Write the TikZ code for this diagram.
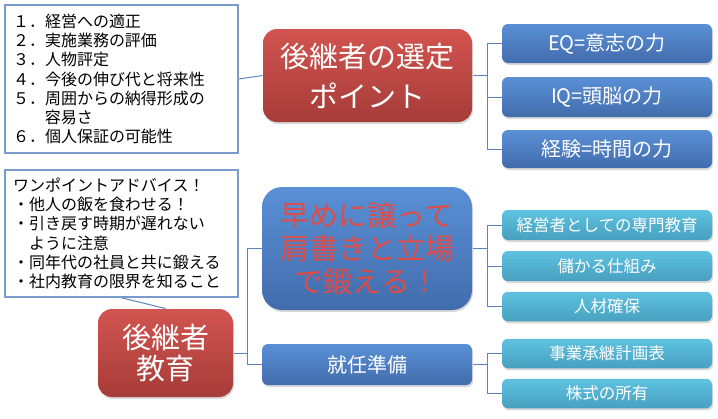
\documentclass[tikz,border=0pt]{standalone}
\usepackage{fontspec}
\setmainfont{Noto Sans CJK JP}
\usetikzlibrary{shadows}
\definecolor{redtop}{RGB}{210,84,80}
\definecolor{redbot}{RGB}{166,60,56}
\definecolor{bluetop}{RGB}{90,144,214}
\definecolor{bluebot}{RGB}{66,108,172}
\definecolor{cyantop}{RGB}{94,194,224}
\definecolor{cyanbot}{RGB}{72,160,192}
\definecolor{frame}{RGB}{122,156,204}
\definecolor{wire}{RGB}{92,132,192}
\definecolor{slogan}{RGB}{222,76,72}
\begin{document}
\begin{tikzpicture}[x=1pt, y=-1pt, line width=1pt,
  note/.style={draw=frame, line width=1.6pt, fill=white, inner xsep=8pt,
    text width=217pt, align=left, font={\fontsize{16}{19.3}\selectfont}},
  lift/.style={drop shadow={opacity=0.3, shadow xshift=1pt, shadow yshift=-2pt}},
  redbox/.style={lift, rounded corners=14pt, top color=redtop, bottom color=redbot,
    text=white, align=center},
  bluebox/.style={lift, rounded corners=6pt, top color=bluetop, bottom color=bluebot,
    text=white, align=center, minimum width=210pt},
  cyanbox/.style={lift, rounded corners=6pt, top color=cyantop, bottom color=cyanbot,
    text=white, align=center, minimum width=210pt, minimum height=29.5pt,
    font={\fontsize{16.5}{20}\selectfont}},
  wire/.style={draw=wire, line width=1pt}]
\useasboundingbox (0,0) rectangle (718,418);

% selection points
\node[note, minimum height=148pt] (list) at (121.5,79)
  {１．経営への適正\\２．実施業務の評価\\３．人物評定\\４．今後の伸び代と将来性\\
   ５．周囲からの納得形成の\\\phantom{５．}容易さ\\６．個人保証の可能性};
\node[redbox, minimum width=209pt, minimum height=93pt,
  font={\fontsize{29}{40}\selectfont}] (sel) at (367.5,75.5) {後継者の選定\\ポイント};
\node[bluebox, minimum height=39pt, font={\fontsize{20}{24}\selectfont}] (eq) at (607,43.5) {EQ=意志の力};
\node[bluebox, minimum height=40pt, font={\fontsize{20}{24}\selectfont}] (iq) at (607,97) {IQ=頭脳の力};
\node[bluebox, minimum height=38pt, font={\fontsize{20}{24}\selectfont}] (exp) at (607,149) {経験=時間の力};

% education
\node[note, minimum height=127pt] (advice) at (121.5,233.5)
  {ワンポイントアドバイス！\\・他人の飯を食わせる！\\・引き戻す時期が遅れない\\
   \phantom{・}ように注意\\・同年代の社員と共に鍛える\\・社内教育の限界を知ること};
\node[redbox, minimum width=135pt, minimum height=88pt,
  font={\fontsize{29}{31}\selectfont}] (edu) at (165.5,353) {後継者\\教育};
\node[bluebox, rounded corners=20pt, minimum height=123pt, text=slogan,
  font={\fontsize{29}{33}\selectfont}] (early) at (367,248.5) {早めに譲って\\肩書きと立場\\で鍛える！};
\node[bluebox, minimum height=41pt, font={\fontsize{20}{24}\selectfont}] (prep) at (367,364.5) {就任準備};
\node[cyanbox, minimum height=30pt] (pro) at (607,225) {経営者としての専門教育};
\node[cyanbox, minimum height=30pt] (earn) at (607,266) {儲かる仕組み};
\node[cyanbox] (staff) at (607,306.5) {人材確保};
\node[cyanbox] (plan) at (607,353.5) {事業承継計画表};
\node[cyanbox] (stock) at (607,393.5) {株式の所有};

% connectors
\draw[wire] (list.east) -- (sel.west);
\draw[wire] (advice.south) -- (edu.north);
\draw[wire] (sel.east) -- ++(15,0) |- (eq.west);
\draw[wire] (sel.east) ++(15,0) |- (iq.west);
\draw[wire] (sel.east) ++(15,0) |- (exp.west);
\draw[wire] (edu.east) -- ++(14,0) |- (early.west);
\draw[wire] (edu.east) ++(14,0) |- (prep.west);
\draw[wire] (early.east) -- ++(15,0) |- (pro.west);
\draw[wire] (early.east) ++(15,0) |- (earn.west);
\draw[wire] (early.east) ++(15,0) |- (staff.west);
\draw[wire] (prep.east) -- ++(15,0) |- (plan.west);
\draw[wire] (prep.east) ++(15,0) |- (stock.west);
\end{tikzpicture}
\end{document}
